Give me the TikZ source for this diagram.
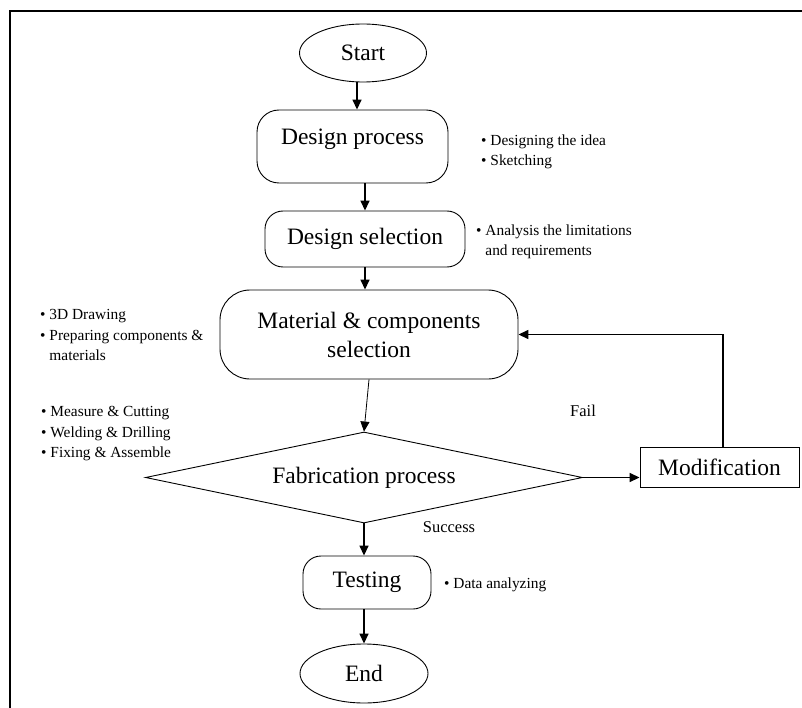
\documentclass[tikz,border=0pt]{standalone}
\usepackage{fontspec}
\setmainfont{Liberation Serif}
\usetikzlibrary{shapes.geometric,arrows.meta}
\begin{document}
\begin{tikzpicture}[x=1pt,y=-1pt,
  box/.style={draw, line width=0.9pt, inner sep=0pt, align=center, font=\fontsize{23.5pt}{29pt}\selectfont},
  rbox/.style={box, rectangle, rounded corners=#1},
  term/.style={box, ellipse},
  note/.style={inner sep=0pt, align=left, anchor=west, font=\fontsize{15.4pt}{20.5pt}\selectfont},
  lbl/.style={inner sep=0pt, font=\fontsize{16.5pt}{20pt}\selectfont},
  arr/.style={line width=1.5pt, -{Triangle[length=10pt,width=9pt]}},
  thinarr/.style={line width=0.8pt, -{Triangle[length=10pt,width=9pt]}}
]
\useasboundingbox (0,0) rectangle (802,708);
\clip (0,0) rectangle (802,708);
\fill[white] (0,0) rectangle (802,708);
\draw[line width=2pt] (10,11) rectangle (830,730);

\node[term, minimum width=127pt, minimum height=58pt] (start) at (363,53) {Start};
\node[rbox=22pt, minimum width=191pt, minimum height=73pt] (dp) at (352.5,146.5) {\raisebox{7pt}[\height][\depth]{Design process}};
\node[rbox=18pt, minimum width=200pt, minimum height=56pt] (ds) at (365,239) {Design selection};
\node[rbox=30pt, minimum width=298pt, minimum height=89pt] (mat) at (369,334.5) {Material \& components\\selection};
\node[box, diamond, shape aspect=4.8, minimum width=437pt, minimum height=91pt] (fab) at (364,477.5) {Fabrication process};
\node[box, rectangle, minimum width=159pt, minimum height=40pt] (mod) at (719.5,467) {Modification};
\node[rbox=18pt, minimum width=128pt, minimum height=53pt] (test) at (367,582.5) {Testing};
\node[term, minimum width=128pt, minimum height=59pt] (end) at (364,673.5) {End};

\node[note] (n1) at (481,152) {• Designing the idea\\• Sketching};
\node[note] (n2) at (476,242) {• Analysis the limitations\\\phantom{• }and requirements};
\node[note] (n3) at (40,335) {• 3D Drawing\\• Preparing components \&\\\phantom{• }materials};
\node[note] (n4) at (41,434) {• Measure \& Cutting\\• Welding \& Drilling\\• Fixing \& Assemble};
\node[note] (n5) at (444,585) {• Data analyzing};

\node[lbl] (fail) at (583,411) {Fail};
\node[lbl] (succ) at (449,527) {Success};

\draw[arr] ([xshift=-6pt]start.south) -- ([xshift=4.5pt]dp.north);
\draw[arr] (dp.south -| ds.north) -- (ds.north);
\draw[arr] (ds.south) -- (ds.south |- mat.north);
\draw[thinarr] (mat.south) -- (fab.north);
\draw[arr] (fab.east) -- (fab.east -| mod.west);
\draw[arr] ([xshift=3.5pt]mod.north) |- (mat.east);
\draw[arr] (fab.south) -- (fab.south |- test.north);
\draw[arr] (test.south -| end.north) -- (end.north);
\end{tikzpicture}
\end{document}
